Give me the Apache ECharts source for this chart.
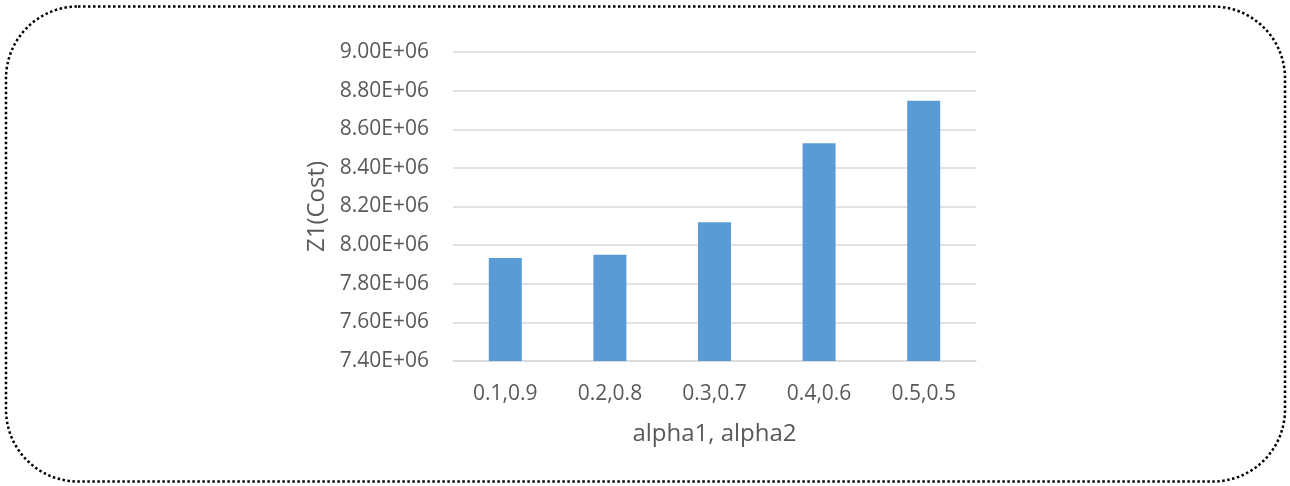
<!DOCTYPE html>
<html>
<head>
<meta charset="utf-8">
<script src="https://cdn.jsdelivr.net/npm/echarts@6/dist/echarts.min.js"></script>
<style>
html,body{margin:0;padding:0;background:#fff;}
#c{width:1290px;height:486px;}
</style>
</head>
<body>
<div id="c"></div>
<script>
const categories = ['0.1,0.9', '0.2,0.8', '0.3,0.7', '0.4,0.6', '0.5,0.5'];
const costValues = [7933000, 7950000, 8119000, 8527000, 8748000];
const yTicks = { min: 7400000, max: 9000000, interval: 200000 };
const xName = 'alpha1, alpha2';
const yName = 'Z1(Cost)';

function fmt(v) {
  const exp = Math.floor(Math.log10(Math.abs(v)));
  const m = v / Math.pow(10, exp);
  const e = (exp < 10 ? '0' : '') + exp;
  return m.toFixed(2) + 'E+' + e;
}

const font = '"Open Sans", "Liberation Sans", sans-serif';
const chart = echarts.init(document.getElementById('c'), null, { renderer: 'canvas' });
chart.setOption({
  animation: false,
  backgroundColor: '#fff',
  graphic: [{
    type: 'rect',
    shape: { x: 6, y: 6.5, width: 1279, height: 475, r: 72 },
    style: { fill: 'none', stroke: '#000', lineWidth: 2.5, lineDash: [2.5, 2.5] },
    silent: true
  }],
  grid: { left: 453, right: 314, top: 52, bottom: 125, containLabel: false },
  xAxis: {
    type: 'category',
    data: categories,
    name: xName,
    nameLocation: 'middle',
    nameGap: 61,
    nameTextStyle: { color: '#595959', fontSize: 24, fontFamily: font },
    axisLine: { show: true, lineStyle: { color: '#d9d9d9', width: 1.5 } },
    axisTick: { show: false },
    axisLabel: { color: '#595959', fontSize: 21, fontFamily: font, margin: 23 }
  },
  yAxis: {
    type: 'value',
    min: yTicks.min,
    max: yTicks.max,
    interval: yTicks.interval,
    name: yName,
    nameLocation: 'middle',
    nameGap: 124,
    nameTextStyle: { color: '#595959', fontSize: 24, fontFamily: font },
    axisLine: { show: false },
    axisTick: { show: false },
    axisLabel: { color: '#595959', fontSize: 21, fontFamily: font, margin: 24, formatter: fmt },
    splitLine: { show: true, lineStyle: { color: '#d9d9d9', width: 1.5 } }
  },
  series: [{
    type: 'bar',
    data: costValues,
    barWidth: 33,
    itemStyle: { color: '#5b9bd5' }
  }]
});
</script>
</body>
</html>
